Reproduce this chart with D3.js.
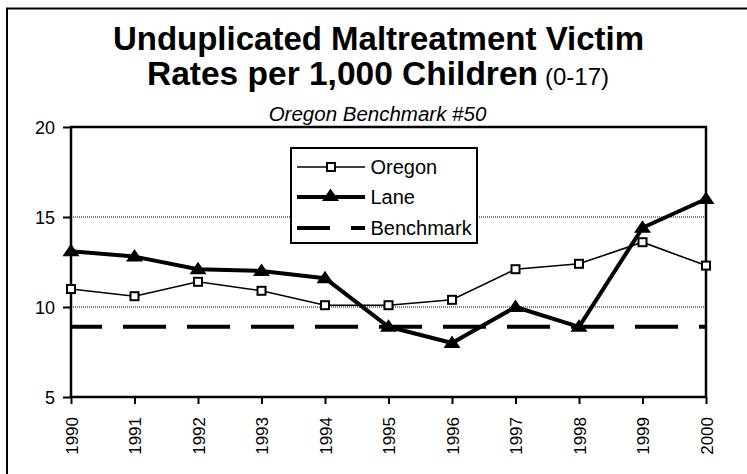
<!DOCTYPE html>
<html><head><meta charset="utf-8">
<script src="https://cdn.jsdelivr.net/npm/d3@7"></script>
<style>body{margin:0;background:#fff}svg{display:block}text{font-family:Arial,"Liberation Sans",sans-serif}</style>
</head><body><svg id="c" width="747" height="474"></svg>
<script>
const years = ["1990","1991","1992","1993","1994","1995","1996","1997","1998","1999","2000"];
const oregon = [11.0,10.6,11.4,10.9,10.1,10.1,10.4,12.1,12.4,13.6,12.3];
const lane = [13.1,12.8,12.1,12.0,11.6,8.9,8.0,10.0,8.9,14.4,16.0];
const benchmark = [8.9,8.9,8.9,8.9,8.9,8.9,8.9,8.9,8.9,8.9,8.9];
const yTicks = [5,10,15,20];
const gridVals = [10,15];

const svg = d3.select("#c");
const FONT = "Arial, 'Liberation Sans', sans-serif";
const L=71,R=706,T=127,B=397;
const x = d3.scalePoint().domain(years).range([L,R]);
const y = d3.scaleLinear().domain([5,20]).range([B,T]);

// outer frame (top and left)
svg.append("path").attr("d","M7,474 L7,8.5 L747,8.5").attr("fill","none").attr("stroke","#000").attr("stroke-width",2);

// titles
svg.append("text").attr("x",378.5).attr("y",50).attr("text-anchor","middle").attr("font-size",33).attr("font-weight","bold").text("Unduplicated Maltreatment Victim");
const t2 = svg.append("text").attr("x",378).attr("y",85).attr("text-anchor","middle");
t2.append("tspan").attr("font-size",33.5).attr("font-weight","bold").text("Rates per 1,000 Children");
t2.append("tspan").attr("font-size",24).attr("dx",7).text("(0-17)");
svg.append("text").attr("x",377.5).attr("y",121).attr("text-anchor","middle").attr("font-size",20.5).attr("font-style","italic").text("Oregon Benchmark #50");

// gridlines
svg.selectAll(".grid").data(gridVals).enter().append("line")
 .attr("x1",L).attr("x2",R).attr("y1",d=>y(d)).attr("y2",d=>y(d))
 .attr("stroke","#000").attr("stroke-width",1).attr("stroke-dasharray","1,1");

// axes
const ya = svg.append("g").attr("transform",`translate(${L},0)`).call(d3.axisLeft(y).tickValues(yTicks).tickSize(8).tickPadding(8).tickFormat(d3.format("d")));
ya.select(".domain").remove();
ya.selectAll("line").attr("stroke-width",2);
ya.selectAll("text").attr("font-size",18).attr("font-family",FONT).attr("dy","0.36em");
const xa = svg.append("g").attr("transform",`translate(0,${B})`).call(d3.axisBottom(x).tickSize(7).tickPadding(0));
xa.select(".domain").remove();
xa.selectAll("line").attr("stroke-width",2);
xa.selectAll("text").attr("font-size",17).attr("font-family",FONT)
 .attr("text-anchor","end").attr("dy",null).attr("x",0).attr("y",0).attr("transform","translate(6,20) rotate(-90)");

// plot frame
svg.append("rect").attr("x",L).attr("y",T).attr("width",R-L).attr("height",B-T).attr("fill","none").attr("stroke","#000").attr("stroke-width",2.5);

// benchmark
const line = d3.line().x((d,i)=>x(years[i])).y(d=>y(d));
svg.append("path").datum(benchmark).attr("d",line).attr("fill","none").attr("stroke","#000").attr("stroke-width",4).attr("stroke-dasharray","43,21").attr("stroke-dashoffset",12);

// oregon
svg.append("path").datum(oregon).attr("d",line).attr("fill","none").attr("stroke","#000").attr("stroke-width",1.6);
svg.selectAll(".osq").data(oregon).enter().append("rect")
 .attr("x",(d,i)=>x(years[i])-4).attr("y",d=>y(d)-4).attr("width",8).attr("height",8)
 .attr("fill","#fff").attr("stroke","#000").attr("stroke-width",2);

// lane
svg.append("path").datum(lane).attr("d",line).attr("fill","none").attr("stroke","#000").attr("stroke-width",4).attr("stroke-linejoin","round");
const triType = {draw(ctx){ctx.moveTo(0,-7.5);ctx.lineTo(8.5,5);ctx.lineTo(-8.5,5);ctx.closePath();}};
const tri = d3.symbol().type(triType);
svg.selectAll(".ltri").data(lane).enter().append("path")
 .attr("d",tri).attr("transform",(d,i)=>`translate(${x(years[i])},${y(d)})`).attr("fill","#000");

// legend
const lg = svg.append("g");
lg.append("rect").attr("x",291).attr("y",148).attr("width",186).attr("height",95).attr("fill","#fff").attr("stroke","#000").attr("stroke-width",2);
const items = [{n:"Oregon",y:167},{n:"Lane",y:197},{n:"Benchmark",y:228}];
lg.append("line").attr("x1",297).attr("x2",365).attr("y1",167).attr("y2",167).attr("stroke","#000").attr("stroke-width",1.6);
lg.append("rect").attr("x",327).attr("y",163).attr("width",8).attr("height",8).attr("fill","#fff").attr("stroke","#000").attr("stroke-width",2);
lg.append("line").attr("x1",297).attr("x2",365).attr("y1",197).attr("y2",197).attr("stroke","#000").attr("stroke-width",4);
lg.append("path").attr("d",tri).attr("transform","translate(330.5,196)").attr("fill","#000");
lg.append("line").attr("x1",297).attr("x2",365).attr("y1",228).attr("y2",228).attr("stroke","#000").attr("stroke-width",4).attr("stroke-dasharray","33,21");
lg.selectAll(".lt").data(items).enter().append("text").attr("x",370.5).attr("y",d=>d.y+7).attr("font-size",20).text(d=>d.n);
</script></body></html>
